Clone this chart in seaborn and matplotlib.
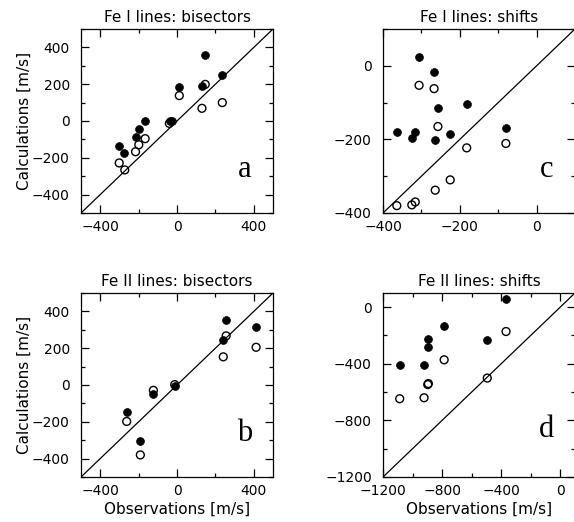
import numpy as np
import pandas as pd
import matplotlib
matplotlib.use("Agg")
import matplotlib.pyplot as plt
import seaborn as sns
from matplotlib.ticker import MultipleLocator

# ---- Data ----
# Panel a: Fe I lines, bisectors
a_fill_x = [-303, -274, -216, -199, -166, -38, -28, 12, 130, 147, 236]
a_fill_y = [-136, -174, -85, -45, -2, 0, 0, 187, 192, 359, 250]
a_open_x = [-301, -272, -216, -199, -166, -40, 12, 130, 147, 236]
a_open_y = [-228, -266, -167, -129, -96, -13, 138, 69, 199, 100]

# Panel c: Fe I lines, shifts
c_fill_x = [-306, -267, -257, -182, -364, -316, -325, -264, -225, -80]
c_fill_y = [24, -17, -114, -104, -180, -181, -196, -201, -184, -170]
c_open_x = [-306, -267, -257, -182, -364, -316, -325, -264, -225, -80]
c_open_y = [-53, -62, -165, -223, -380, -370, -378, -338, -310, -211]

# Panel b: Fe II lines, bisectors
b_fill_x = [-262, -191, -123, -12, 241, 256, 412]
b_fill_y = [-148, -303, -49, -5, 247, 351, 314]
b_open_x = [-262, -191, -123, -12, 241, 256, 412]
b_open_y = [-198, -380, -29, 2, 153, 267, 205]

# Panel d: Fe II lines, shifts
d_fill_x = [-1087, -922, -896, -896, -786, -494, -367]
d_fill_y = [-412, -412, -226, -278, -132, -233, 56]
d_open_x = [-1087, -922, -893, -897, -786, -494, -367]
d_open_y = [-647, -640, -540, -547, -372, -501, -172]

titles = ["Fe I lines: bisectors", "Fe I lines: shifts",
          "Fe II lines: bisectors", "Fe II lines: shifts"]

plt.rcParams['font.family'] = ['DejaVu Sans']

fig = plt.figure(figsize=(5.74, 5.22), dpi=100)
W, H = 574.0, 522.0
rects = {
    "a": [81 / W, 1 - 213 / H, 192 / W, 184 / H],
    "c": [383 / W, 1 - 213 / H, 192 / W, 184 / H],
    "b": [81 / W, 1 - 477 / H, 192 / W, 184 / H],
    "d": [383 / W, 1 - 477 / H, 192 / W, 184 / H],
}

panels = [
    ("a", titles[0], a_fill_x, a_fill_y, a_open_x, a_open_y, (-500, 500), 400, 200, 200, 100, False, True),
    ("c", titles[1], c_fill_x, c_fill_y, c_open_x, c_open_y, (-400, 100), 200, 100, 200, 100, False, False),
    ("b", titles[2], b_fill_x, b_fill_y, b_open_x, b_open_y, (-500, 500), 400, 200, 200, 100, True, True),
    ("d", titles[3], d_fill_x, d_fill_y, d_open_x, d_open_y, (-1200, 100), 400, 200, 400, 200, True, False),
]

for (key, title, fx, fy, ox, oy, lim, xmaj, xmin_, ymaj, ymin_, xlab, ylab) in panels:
    ax = fig.add_axes(rects[key])
    ax.set_xlim(*lim)
    ax.set_ylim(*lim)
    ax.plot(lim, lim, color="black", lw=0.9, zorder=1)
    df_open = pd.DataFrame({"obs": ox, "calc": oy})
    df_fill = pd.DataFrame({"obs": fx, "calc": fy})
    sns.scatterplot(data=df_open, x="obs", y="calc", ax=ax, s=32,
                    facecolor="none", edgecolor="black", linewidth=1.0, zorder=2)
    sns.scatterplot(data=df_fill, x="obs", y="calc", ax=ax, s=32,
                    color="black", edgecolor="black", linewidth=0.5, zorder=3)
    xt = [t for t in np.arange(-1200, 1201, xmaj) if lim[0] <= t < lim[1] - 1e-9]
    yt = [t for t in np.arange(-1200, 1201, ymaj) if lim[0] <= t < lim[1] - 1e-9]
    ax.set_xticks(xt)
    ax.set_yticks(yt)
    ax.xaxis.set_minor_locator(MultipleLocator(xmin_))
    ax.yaxis.set_minor_locator(MultipleLocator(ymin_))
    ax.set_xlim(*lim)
    ax.set_ylim(*lim)
    ax.tick_params(which="both", direction="in", top=True, right=True,
                   colors="black", labelsize=10)
    ax.tick_params(which="major", length=6, width=0.9)
    ax.tick_params(which="minor", length=3, width=0.9)
    ax.tick_params(axis="x", pad=5)
    ax.tick_params(axis="y", pad=8)
    for sp in ax.spines.values():
        sp.set_linewidth(0.9)
        sp.set_color("black")
    ax.set_title(title, fontsize=11, pad=5)
    ax.text(0.85, 0.22 if key == "d" else 0.195, key, transform=ax.transAxes,
            ha="center", va="baseline", fontsize=22, family="Liberation Serif")
    if xlab:
        ax.set_xlabel("Observations [m/s]", fontsize=11)
        ax.xaxis.set_label_coords(0.5, -0.135)
    else:
        ax.set_xlabel("")
    if ylab:
        ax.set_ylabel("Calculations [m/s]", fontsize=11)
        ax.yaxis.set_label_coords(-0.255, 0.5)
    else:
        ax.set_ylabel("")
    leg = ax.get_legend()
    if leg:
        leg.remove()

fig.savefig("out.png", dpi=100)
